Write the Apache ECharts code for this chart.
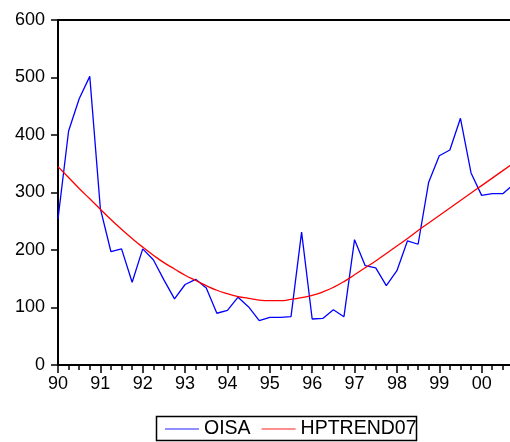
<!DOCTYPE html>
<html>
<head>
<meta charset="utf-8">
<script src="https://cdn.jsdelivr.net/npm/echarts@6/dist/echarts.min.js"></script>
<style>
html,body{margin:0;padding:0;overflow:hidden;background:#fff;width:510px;height:442px;}
#chart{width:560px;height:442px;}
</style>
</head>
<body>
<div id="chart"></div>
<script>
// quarterly observations starting 1990Q1
var oisa = [254, 407, 463, 502, 272, 197, 202, 144, 202, 183, 148, 115,
            140, 149, 134, 90, 95, 118, 101, 77, 83, 83, 84, 231,
            80, 81, 96, 84, 218, 173, 169, 138, 164, 216, 210, 318,
            364, 374, 429, 334, 295, 298, 298, 314];
var hptrend = [345, 326, 307, 289, 271, 253, 236, 220, 205, 191, 178, 167,
               156, 147, 138, 130, 124, 119, 116, 113, 112, 112, 114, 117,
               121, 127, 135, 145, 157, 169, 181, 194, 207, 220, 234, 247,
               260, 273, 286, 299, 312, 325, 338, 351];
var yearLabels = ['90','91','92','93','94','95','96','97','98','99','00','01'];
var yTicks = [0, 100, 200, 300, 400, 500, 600];

var chart = echarts.init(document.getElementById('chart'), null, {renderer: 'canvas'});
function pairs(arr){ return arr.map(function(v,i){ return [i, v]; }); }
var font = 'Liberation Sans, Arial, sans-serif';
chart.setOption({
  animation: false,
  backgroundColor: '#fff',
  grid: {left: 58, top: 20, width: 466, height: 345, show: true, borderColor: '#000', borderWidth: 2, backgroundColor: 'transparent'},
  xAxis: {
    type: 'value', min: 0, max: 44, interval: 4,
    axisLine: {show: true, onZero: false, lineStyle: {color: '#000', width: 2}},
    axisTick: {show: true, length: 8, lineStyle: {color: '#000', width: 1.5}},
    minorTick: {show: true, splitNumber: 4, length: 5, lineStyle: {color: '#000', width: 1.5}},
    splitLine: {show: false},
    axisLabel: {color: '#000', fontFamily: font, fontSize: 18, margin: 10,
      formatter: function(v){ return yearLabels[Math.round(v/4)]; }}
  },
  yAxis: {
    type: 'value', min: yTicks[0], max: yTicks[yTicks.length-1], interval: 100,
    axisLine: {show: true, lineStyle: {color: '#000', width: 2}},
    axisTick: {show: true, length: 7, lineStyle: {color: '#000', width: 1.5}},
    splitLine: {show: false},
    axisLabel: {color: '#000', fontFamily: font, fontSize: 18, margin: 13}
  },
  legend: {
    left: 165, top: 419, padding: 0, itemWidth: 34, itemHeight: 1.5, itemGap: 11,
    icon: 'rect',
    textStyle: {color: '#000', fontFamily: font, fontSize: 19.5, padding: [0,0,0,0]},
    data: [
      {name: 'OISA', itemStyle: {color: '#6a6aff'}},
      {name: 'HPTREND07', itemStyle: {color: '#ff6a6a'}}
    ]
  },
  graphic: [{
    type: 'rect', shape: {x: 156.5, y: 416.5, width: 260, height: 24},
    style: {fill: 'none', stroke: '#000', lineWidth: 1.5}, z: 100
  }],
  series: [
    {name: 'OISA', type: 'line', data: pairs(oisa), symbol: 'none',
     lineStyle: {color: '#0000ff', width: 1.3}, itemStyle: {color: '#0000ff'}},
    {name: 'HPTREND07', type: 'line', data: pairs(hptrend), symbol: 'none', smooth: true,
     lineStyle: {color: '#ff0000', width: 1.3}, itemStyle: {color: '#ff0000'}}
  ]
});
</script>
</body>
</html>
